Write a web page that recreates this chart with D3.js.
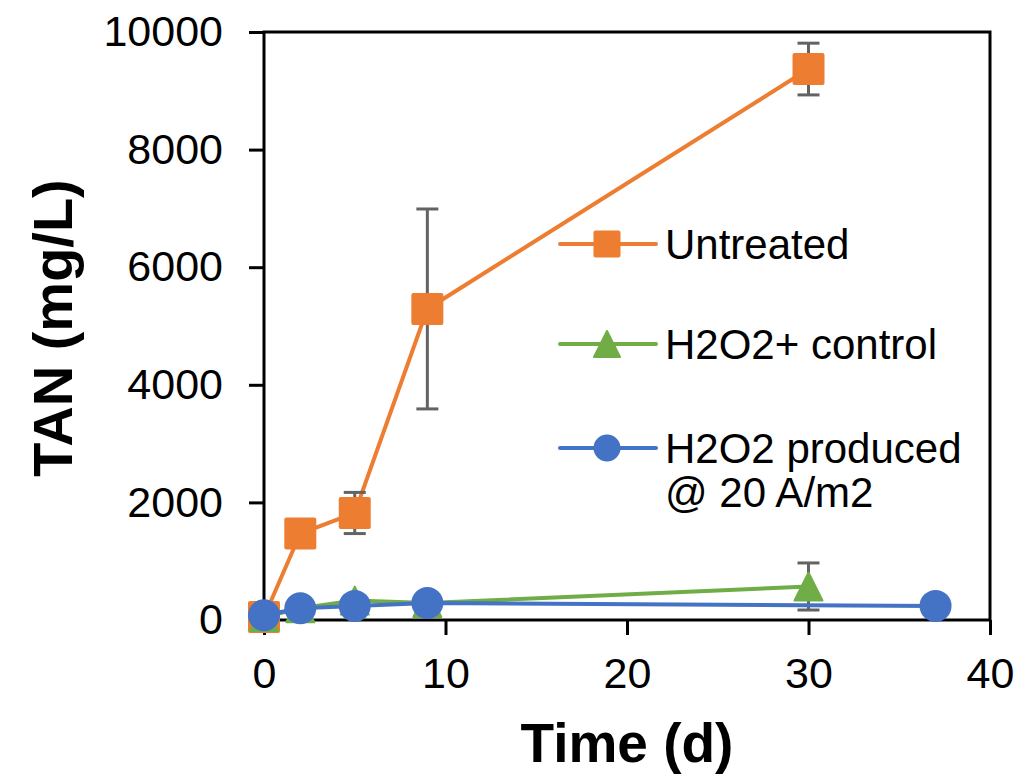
<!DOCTYPE html>
<html>
<head>
<title>TAN over time</title>
<script src="https://cdn.jsdelivr.net/npm/d3@7/dist/d3.min.js"></script>
<style>
	body { margin: 0; background: #fff; }
	text { font-family: Arial, "Liberation Sans", sans-serif; fill: #000; }
</style>
</head>
<body>
<div id="chart"></div>
<script>
	// values
	var untreatedDays = [0, 2, 5, 9, 30],
		untreatedTan = [50, 1470, 1820, 5290, 9370],
		untreatedErr = [0, 0, 350, 1700, 440];

	var controlDays = [0, 2, 5, 9, 30],
		controlTan = [50, 200, 330, 290, 570],
		controlErr = [0, 0, 0, 0, 400];

	var producedDays = [0, 2, 5, 9, 37],
		producedTan = [80, 200, 240, 290, 240];

	var xTicks = [0, 10, 20, 30, 40],
		yTicks = [0, 2000, 4000, 6000, 8000, 10000];

	var seriesNames = ['Untreated', 'H2O2+ control', 'H2O2 produced'],
		seriesColors = ['#ED7D31', '#70AD47', '#4472C4'];

	var width = 1023,
		height = 778;

	var x = d3.scaleLinear().domain([0, 40]).range([264, 990]),
		y = d3.scaleLinear().domain([0, 10000]).range([620, 32]);

	var svg = d3.select('#chart').append('svg')
		.attr('width', width)
		.attr('height', height);

	function toPoints(days, vals, errs) {
		return days.map(function(d, i) {
			return { x: d, y: vals[i], e: errs ? errs[i] : 0 };
		});
	}

	var series = [
		{ name: seriesNames[0], color: seriesColors[0], shape: 'square', pts: toPoints(untreatedDays, untreatedTan, untreatedErr) },
		{ name: seriesNames[1], color: seriesColors[1], shape: 'triangle', pts: toPoints(controlDays, controlTan, controlErr) },
		{ name: seriesNames[2], color: seriesColors[2], shape: 'circle', pts: toPoints(producedDays, producedTan) }
	];

	// axes
	var xAxis = svg.append('g')
		.attr('transform', 'translate(0,620)')
		.call(d3.axisBottom(x).tickValues(xTicks).tickSizeInner(15).tickSizeOuter(0).tickPadding(22));
	var yAxis = svg.append('g')
		.attr('transform', 'translate(264,0)')
		.call(d3.axisLeft(y).tickValues(yTicks).tickSizeInner(15).tickSizeOuter(0).tickPadding(26).tickFormat(d3.format('d')));

	[xAxis, yAxis].forEach(function(a) {
		a.select('.domain').remove();
		a.selectAll('line').attr('stroke', '#000').attr('stroke-width', 3);
		a.selectAll('text').style('font-size', '43px').attr('fill', '#000');
	});

	// plot frame
	svg.append('rect')
		.attr('x', x(0)).attr('y', y(10000))
		.attr('width', x(40) - x(0)).attr('height', y(0) - y(10000))
		.attr('fill', 'none').attr('stroke', '#000').attr('stroke-width', 3);

	var line = d3.line()
		.x(function(d) { return x(d.x); })
		.y(function(d) { return y(d.y); });

	function marker(sel, shape, size, color) {
		if (shape === 'square') {
			sel.append('rect')
				.attr('x', -size / 2).attr('y', -size / 2)
				.attr('width', size).attr('height', size)
				.attr('rx', 2)
				.attr('fill', color);
		} else if (shape === 'triangle') {
			var h = size;
			sel.append('path')
				.attr('d', 'M0,' + (-h / 2) + 'L' + (size / 2) + ',' + (h / 2) + 'L' + (-size / 2) + ',' + (h / 2) + 'Z')
				.attr('fill', color)
				.attr('stroke', color).attr('stroke-width', 2).attr('stroke-linejoin', 'round');
		} else {
			sel.append('circle').attr('r', size / 2).attr('fill', color);
		}
	}

	series.forEach(function(s) {
		var g = svg.append('g');

		g.append('path')
			.datum(s.pts)
			.attr('d', line)
			.attr('fill', 'none')
			.attr('stroke', s.color)
			.attr('stroke-width', 4);

		// error bars
		var eb = g.selectAll('g.err')
			.data(s.pts.filter(function(d) { return d.e > 0; }))
			.enter().append('g')
			.attr('class', 'err')
			.attr('stroke', '#636363')
			.attr('stroke-width', 3);
		eb.append('line')
			.attr('x1', function(d) { return x(d.x); }).attr('x2', function(d) { return x(d.x); })
			.attr('y1', function(d) { return y(d.y + d.e); }).attr('y2', function(d) { return y(d.y - d.e); });
		[1, -1].forEach(function(sign) {
			eb.append('line')
				.attr('x1', function(d) { return x(d.x) - 11; }).attr('x2', function(d) { return x(d.x) + 11; })
				.attr('y1', function(d) { return y(d.y + sign * d.e); }).attr('y2', function(d) { return y(d.y + sign * d.e); });
		});

		g.selectAll('g.pt')
			.data(s.pts)
			.enter().append('g')
			.attr('class', 'pt')
			.attr('transform', function(d) { return 'translate(' + x(d.x) + ',' + y(d.y) + ')'; })
			.each(function() {
				marker(d3.select(this), s.shape, s.shape === 'triangle' ? 28 : 32, s.color);
			});
	});

	// legend
	var legendRows = [244, 344, 448];
	series.forEach(function(s, i) {
		var lg = svg.append('g').attr('transform', 'translate(607,' + legendRows[i] + ')');
		lg.append('line')
			.attr('x1', -47).attr('x2', 49)
			.attr('stroke', s.color).attr('stroke-width', 4).attr('stroke-linecap', 'round');
		marker(lg, s.shape, s.shape === 'triangle' ? 26 : 27, s.color);
		lg.append('text')
			.attr('x', 58).attr('y', 15)
			.style('font-size', '42px')
			.text(s.name);
	});
	svg.append('text')
		.attr('x', 665).attr('y', 507)
		.style('font-size', '42px')
		.text('@ 20 A/m2');

	// axis titles
	svg.append('text')
		.attr('x', 627).attr('y', 762)
		.attr('text-anchor', 'middle')
		.style('font-size', '55px').style('font-weight', 'bold')
		.text('Time (d)');
	svg.append('text')
		.attr('transform', 'translate(72,328) rotate(-90)')
		.attr('text-anchor', 'middle')
		.style('font-size', '56px').style('font-weight', 'bold')
		.text('TAN (mg/L)');
</script>
</body>
</html>
